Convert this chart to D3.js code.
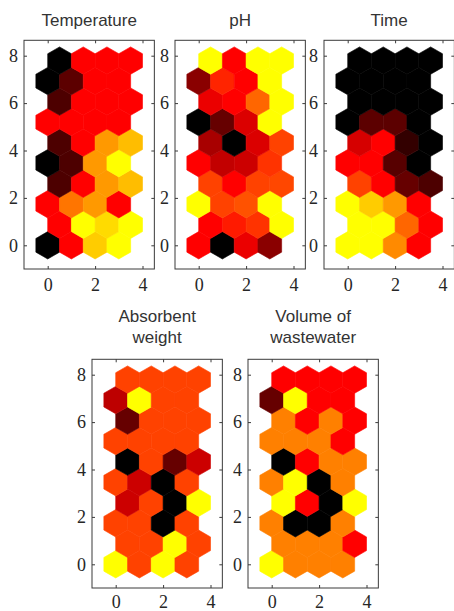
<!DOCTYPE html>
<html>
<head>
<meta charset="utf-8">
<script src="https://cdn.jsdelivr.net/npm/d3@7"></script>
<style>
  html, body { margin: 0; padding: 0; background: #fff; }
  svg { display: block; }
</style>
</head>
<body>
<svg id="chart" width="454" height="611"></svg>
<script>
// ---- data: SOM component planes, 4 columns x 10 rows (hextop), row 0 = bottom ----
const nCols = 4;
const nRows = 10;
const xTicks = [0, 2, 4];
const yTicks = [0, 2, 4, 6, 8];

// normalized plane values (0 = black, 0.5 = red, 1 = yellow), listed row by row from bottom
const temperature = [
  0.00, 0.50, 0.90, 1.00,
  0.50, 1.00, 0.93, 1.00,
  0.50, 0.73, 0.80, 0.50,
  0.15, 0.50, 0.80, 0.87,
  0.00, 0.15, 0.80, 1.00,
  0.15, 0.50, 0.80, 0.87,
  0.50, 0.50, 0.50, 0.50,
  0.15, 0.50, 0.50, 0.50,
  0.00, 0.18, 0.50, 0.50,
  0.00, 0.50, 0.50, 0.50
];
const pH = [
  0.50, 0.00, 0.46, 0.27,
  0.50, 0.55, 0.60, 1.00,
  1.00, 0.63, 0.66, 1.00,
  0.63, 0.50, 0.63, 0.64,
  0.50, 0.38, 0.40, 0.60,
  0.33, 0.00, 0.43, 0.63,
  0.00, 0.20, 0.43, 1.00,
  0.46, 0.50, 0.70, 1.00,
  0.27, 0.57, 0.50, 1.00,
  1.00, 0.50, 1.00, 1.00
];
const time = [
  1.00, 1.00, 0.77, 0.50,
  1.00, 1.00, 0.70, 0.50,
  1.00, 0.90, 0.80, 0.50,
  0.63, 0.50, 0.20, 0.15,
  0.50, 0.50, 0.17, 0.00,
  0.42, 0.50, 0.10, 0.00,
  0.00, 0.18, 0.18, 0.00,
  0.00, 0.00, 0.00, 0.00,
  0.00, 0.00, 0.00, 0.00,
  0.00, 0.00, 0.00, 0.00
];
const absorbentWeight = [
  1.00, 0.63, 1.00, 0.63,
  0.63, 0.63, 1.00, 0.63,
  0.63, 0.63, 0.00, 0.63,
  0.40, 0.63, 0.00, 1.00,
  0.63, 0.40, 0.00, 0.63,
  0.00, 0.63, 0.20, 0.40,
  0.63, 0.63, 0.63, 0.63,
  0.20, 0.63, 0.63, 0.63,
  0.37, 1.00, 0.63, 0.63,
  0.63, 0.63, 0.63, 0.63
];
const volumeOfWastewater = [
  1.00, 0.75, 0.75, 0.75,
  0.75, 0.75, 0.75, 0.50,
  0.75, 0.00, 0.00, 0.75,
  1.00, 0.50, 0.00, 1.00,
  0.75, 1.00, 0.00, 0.75,
  0.00, 0.50, 0.75, 0.75,
  0.75, 0.75, 0.75, 0.50,
  0.75, 0.50, 0.75, 0.50,
  0.20, 1.00, 0.50, 0.50,
  0.50, 0.50, 0.50, 0.50
];
const titles = [["Temperature"], ["pH"], ["Time"], ["Absorbent", "weight"], ["Volume of", "wastewater"]];
const planes = [temperature, pH, time, absorbentWeight, volumeOfWastewater];

// ---- layout ----
const unit = 23.7;                // pixels per data unit (axis equal)
const xDomain = [-1, 4.5];
const yDomain = [-1, 8.65];
const layout = [
  {left: 24,  bottom: 269, pad: 9},
  {left: 175, bottom: 269, pad: 9},
  {left: 324, bottom: 269, pad: 9},
  {left: 92,  bottom: 588, pad: 7},
  {left: 248, bottom: 588, pad: 7}
];

const color = d3.scaleLinear().domain([0, 0.5, 1]).range(["#000000", "#ff0000", "#ffff00"]).clamp(true);

const svg = d3.select("#chart");
const s3 = Math.sqrt(3);
const hexVerts = [[0, 1 / s3], [0.5, 0.5 / s3], [0.5, -0.5 / s3], [0, -1 / s3], [-0.5, -0.5 / s3], [-0.5, 0.5 / s3]];
const fmt = d3.format("d");

planes.forEach((vals, p) => {
  const L = layout[p];
  const x = d3.scaleLinear().domain(xDomain).range([L.left, L.left + (xDomain[1] - xDomain[0]) * unit]);
  const y = d3.scaleLinear().domain(yDomain).range([L.bottom, L.bottom - (yDomain[1] - yDomain[0]) * unit]);
  const g = svg.append("g");

  const cells = [];
  for (let i = 0; i < nRows; i++) {
    for (let j = 0; j < nCols; j++) {
      cells.push({cx: j + 0.5 * (i % 2), cy: i * Math.sqrt(0.75), v: vals[i * nCols + j]});
    }
  }
  const line = d3.line();
  g.append("g").selectAll("path").data(cells).join("path")
    .attr("d", d => line(hexVerts.map(([dx, dy]) => [x(d.cx + dx), y(d.cy + dy)])) + "Z")
    .attr("fill", d => color(d.v))
    .attr("stroke", d => color(d.v))
    .attr("stroke-width", 0.6);

  // box
  g.append("rect")
    .attr("x", x(xDomain[0])).attr("y", y(yDomain[1]))
    .attr("width", x(xDomain[1]) - x(xDomain[0]))
    .attr("height", y(yDomain[0]) - y(yDomain[1]))
    .attr("fill", "none").attr("stroke", "#3a3a3a").attr("stroke-width", 1);

  const tk = 3;
  const axB = g.append("g").attr("transform", `translate(0,${y(yDomain[0])})`)
    .call(d3.axisBottom(x).tickValues(xTicks).tickFormat(fmt).tickSize(-tk).tickSizeOuter(0).tickPadding(L.pad));
  const axL = g.append("g").attr("transform", `translate(${x(xDomain[0])},0)`)
    .call(d3.axisLeft(y).tickValues(yTicks).tickFormat(fmt).tickSize(-tk).tickSizeOuter(0).tickPadding(6));
  const axT = g.append("g").attr("transform", `translate(0,${y(yDomain[1])})`)
    .call(d3.axisTop(x).tickValues(xTicks).tickSize(-tk).tickSizeOuter(0).tickFormat(""));
  const axR = g.append("g").attr("transform", `translate(${x(xDomain[1])},0)`)
    .call(d3.axisRight(y).tickValues(yTicks).tickSize(-tk).tickSizeOuter(0).tickFormat(""));
  [axB, axL, axT, axR].forEach(a => {
    a.select(".domain").remove();
    a.selectAll("line").attr("stroke", "#3a3a3a");
    a.selectAll("text").attr("fill", "#262626")
      .style("font-family", "'Liberation Serif', 'Times New Roman', serif")
      .style("font-size", "18px");
  });

  // title
  const cx = (x(xDomain[0]) + x(xDomain[1])) / 2;
  const t = titles[p];
  const topY = y(yDomain[1]);
  const lineH = 21;
  const base = t.length > 1 ? topY - 16 : topY - 14;
  t.forEach((s, k) => {
    g.append("text")
      .attr("x", cx)
      .attr("y", base - (t.length - 1 - k) * lineH)
      .attr("text-anchor", "middle")
      .attr("fill", "#333")
      .style("font-family", "'Liberation Sans', Arial, sans-serif")
      .style("font-size", "17px")
      .text(s);
  });
});
</script>
</body>
</html>
